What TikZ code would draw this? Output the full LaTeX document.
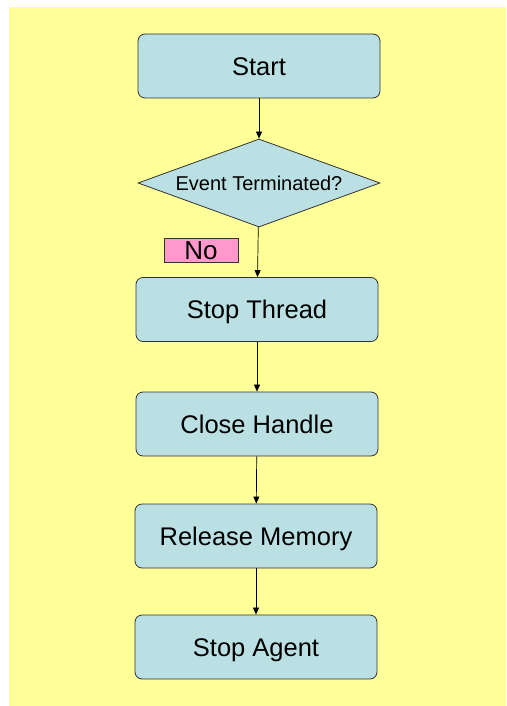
\documentclass[tikz,border=0pt]{standalone}
\usepackage{fontspec}
\setmainfont{Liberation Sans}
\usetikzlibrary{arrows.meta,shapes.geometric}
\definecolor{pagebg}{HTML}{FFFF99}
\definecolor{boxfill}{HTML}{BBE0E3}
\definecolor{boxline}{HTML}{333333}
\definecolor{nofill}{HTML}{FF99CC}
\tikzset{
  stepbox/.style={draw=boxline, fill=boxfill, rounded corners=7pt, line width=0.8pt,
    minimum width=242pt, minimum height=64pt, inner sep=0pt,
    text height=18.3pt, text depth=0pt, font=\fontsize{25.5}{30}\selectfont},
  decision/.style={draw=boxline, fill=boxfill, diamond, line width=0.8pt, aspect=2.75,
    minimum width=242pt, minimum height=88pt, inner sep=0pt,
    text height=14.3pt, text depth=0pt, font=\fontsize{20}{24}\selectfont},
  tag/.style={draw=boxline, fill=nofill, line width=0.6pt, minimum width=74pt, minimum height=24pt,
    inner sep=0pt, text height=18.6pt, text depth=0pt, font=\fontsize{26}{30}\selectfont},
  flow/.style={draw=black, line width=0.7pt, -{Triangle[length=7pt,width=6pt]}}
}
\begin{document}
\begin{tikzpicture}[x=1pt,y=-1pt]
  \useasboundingbox (0,0) rectangle (506,706);
  \fill[pagebg] (9,7) rectangle (506,706);

  \node[stepbox]  (start)   at (259,66)  {Start};
  \node[decision] (event)   at (259,183) {Event Terminated?};
  \node[tag]      (no)      at (201,250) {No};
  \node[stepbox]  (thread)  at (257,309.5) {Stop Thread};
  \node[stepbox]  (handle)  at (257,424) {Close Handle};
  \node[stepbox]  (memory)  at (256,536) {Release Memory};
  \node[stepbox]  (agent)   at (256,647) {Stop Agent};

  \draw[flow] (start) -- (event);
  \draw[flow] (event) -- (thread);
  \draw[flow] (thread) -- (handle);
  \draw[flow] (handle) -- (memory);
  \draw[flow] (memory) -- (agent);
\end{tikzpicture}
\end{document}
